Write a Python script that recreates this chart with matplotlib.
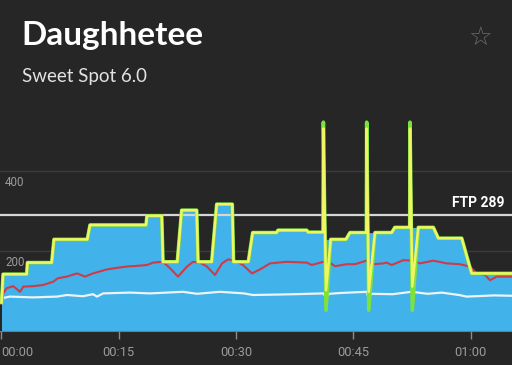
import matplotlib
matplotlib.use("Agg")
import matplotlib.pyplot as plt
from matplotlib.transforms import offset_copy

# ---------------- data ----------------
# target workout profile (minutes, watts) - blue area
target_t = [0.0, 0.2, 3.22, 3.32, 6.42, 6.71, 10.97, 11.32, 18.48, 18.6, 20.49, 20.65,
            22.48, 23.04, 24.96, 25.13, 26.88, 27.52, 29.51, 29.67, 31.56, 32.12,
            35.19, 35.36, 39.03, 39.2, 41.15, 41.2, 44.05, 44.56, 49.9, 50.3,
            55.22, 55.86, 58.85, 60.12, 65.3]
target_w = [70, 142, 142, 171, 171, 229, 229, 265, 265, 288, 288, 173,
            173, 302, 302, 173, 173, 317, 317, 173, 173, 246,
            246, 252, 252, 247, 247, 229, 229, 246, 246, 259,
            259, 232, 232, 144, 144]

# sprints
sprint_start = [41.12, 46.66, 52.2]
sprint_peak_t = [41.16, 46.7, 52.24]
sprint_low_t = [41.5, 46.96, 52.53]
sprint_back_t = [42.1, 47.76, 53.3]
sprint_peak_w = [506, 506, 506]
sprint_low_w = [102, 98, 111]
sprint_peak_raw = [522, 522, 522]
sprint_low_raw = [52, 52, 52]

# heart rate (red), plotted on the power scale
hr_t = [0.0, 0.23, 0.66, 1.51, 2.37, 2.79, 4.03, 5.31, 5.95, 6.59, 7.22, 8.37,
        9.65, 10.68, 11.70, 13.49, 15.15, 16.43, 16.82, 18.61, 19.37, 20.65, 21.55, 22.57,
        23.72, 24.49, 25.38, 26.28, 27.30, 28.2, 28.96, 29.86, 30.88, 32.03, 33.06, 34.34,
        36.47, 39.03, 39.67, 41.15, 41.79, 42.65, 44.14, 45.2, 46.7, 47.54, 48.79, 49.26,
        49.9, 51.38, 52.66, 53.52, 55.22, 56.93, 58.63, 59.91, 60.76, 61.83, 62.47, 63.33,
        65.3]
hr_w = [69, 94, 107, 112, 98, 111, 112, 115, 119, 123, 132, 136,
        144, 136, 144, 154, 159, 162, 162, 165, 171, 173, 157, 136,
        161, 173, 171, 161, 140, 169, 179, 176, 165, 144, 154, 169,
        173, 171, 165, 173, 173, 162, 167, 167, 176, 167, 169, 171,
        165, 177, 176, 169, 176, 169, 167, 161, 144, 140, 127, 136,
        136]

# cadence (white), plotted on the power scale
cad_t = [0.03, 1.09, 4.03, 7.10, 8.37, 10.42, 11.70, 12.21, 13.0, 16.43, 19.0, 23.21,
         25.0, 27.93, 31.0, 32.16, 35.0, 37.5, 41.15, 41.5, 41.9, 43.3, 46.7, 46.96,
         47.3, 50.0, 52.45, 54.5, 56.3, 58.5, 59.5, 63.0, 65.3]
cad_w = [82, 86, 84, 86, 90, 87, 92, 86, 94, 96, 94, 98,
         93, 98, 94, 90, 91, 92, 94, 85, 93, 95, 98, 82,
         93, 92, 98, 93, 96, 90, 86, 89, 88]

ftp = 289
x_ticks = [0, 15, 30, 45, 60]
x_labels = ["00:00", "00:15", "00:30", "00:45", "01:00"]
y_grid = [200, 400]
y_labels = ["200", "400"]

title = "Daughhetee"
subtitle = "Sweet Spot 6.0"

# -------- build power series from target + sprints --------
def level_at(t):
    for k in range(len(target_t) - 1):
        if target_t[k] <= t <= target_t[k + 1]:
            return target_w[k] + (target_w[k + 1] - target_w[k]) * (t - target_t[k]) / (target_t[k + 1] - target_t[k])
    return target_w[-1]

def build_power(peaks, lows):
    pt, pw = [], []
    i = 0
    s = 0
    while i < len(target_t):
        t = target_t[i]
        if s < len(sprint_start) and t > sprint_start[s]:
            pt.append(sprint_start[s]); pw.append(pw[-1])
            pt.append(sprint_peak_t[s]); pw.append(peaks[s])
            pt.append(sprint_low_t[s]); pw.append(lows[s])
            back = sprint_back_t[s]
            pt.append(back); pw.append(level_at(back))
            while i < len(target_t) and target_t[i] <= back:
                i += 1
            s += 1
            continue
        pt.append(t); pw.append(target_w[i])
        i += 1
    return pt, pw

pow_t, pow_w = build_power(sprint_peak_w, sprint_low_w)
raw_t, raw_w = build_power(sprint_peak_raw, sprint_low_raw)

# ---------------- figure ----------------
W, H = 512, 365
bg = "#262626"
fig = plt.figure(figsize=(W / 100, H / 100), dpi=100, facecolor=bg)

y0_px, ytop_px = 331, 112
ax = fig.add_axes([0, (H - y0_px) / H, 1, (y0_px - ytop_px) / H])
ax.set_facecolor(bg)
px_per_min = 7.82
ax.set_xlim(-1.5 / px_per_min, (W - 1.5) / px_per_min)
ax.set_ylim(0, (y0_px - ytop_px) / 0.4)

for g in y_grid:
    ax.axhline(g, color="#3b3b3b", lw=1.0, zorder=1)

ax.fill_between(target_t, 0, target_w, color="#41b2ea", lw=0, zorder=2)

ax.axhline(ftp, color="#d6d6d6", lw=1.6, zorder=3)

ax.plot(cad_t, cad_w, color="#eef3f5", lw=1.6, zorder=4)
ax.plot(hr_t, hr_w, color="#cf3b46", lw=1.5, zorder=5)

ax.plot(raw_t, raw_w, color="#7ee23c", lw=2.6, zorder=6,
        solid_joinstyle="round", solid_capstyle="butt")
ax.plot(pow_t, pow_w, color="#f0f566", lw=1.8, zorder=7, solid_joinstyle="round")

# ticks
ax.set_xticks(x_ticks)
ax.set_xticklabels(x_labels)
ax.set_yticks([])
ax.tick_params(axis="x", colors="#8c8c8c", direction="out", length=5.5, width=1,
               labelsize=9.3, labelcolor="#9b9b9b", pad=5.5)
for lab in ax.get_xticklabels():
    lab.set_fontfamily("Roboto")
ax.get_xticklabels()[0].set_horizontalalignment("left")
ax.get_xticklabels()[0].set_x(-1.5 / px_per_min)
for sp in ["top", "left", "right"]:
    ax.spines[sp].set_visible(False)
ax.spines["bottom"].set_color("#7a7a7a")
ax.spines["bottom"].set_linewidth(0.8)

tr = offset_copy(ax.transData, fig=fig, x=0, y=-5, units="dots")
for g, lab in zip(y_grid, y_labels):
    ax.text(3.5 / px_per_min, g, lab, transform=tr, ha="left", va="top",
            color="#9b9b9b", fontsize=8.3, family="Roboto", zorder=8)

ax.text((505 - 1.5) / px_per_min, ftp, "FTP 289",
        transform=offset_copy(ax.transData, fig=fig, x=0, y=5, units="dots"),
        ha="right", va="bottom", color="white", fontsize=10, fontweight="bold",
        family="Roboto", zorder=8)

# header
fig.text(21 / W, 1 - 45 / H, title, color="white", fontsize=24, fontweight="bold",
         family="Lato", ha="left", va="baseline")
fig.text(22 / W, 1 - 82 / H, subtitle, color="#e2e2e2", fontsize=13.5, family="Lato",
         ha="left", va="baseline")
fig.text(480 / W, 1 - 39 / H, "☆", color="#6c6c6c", fontsize=19, family="DejaVu Sans",
         ha="center", va="center")

fig.savefig("out.png", dpi=100, facecolor=bg)
